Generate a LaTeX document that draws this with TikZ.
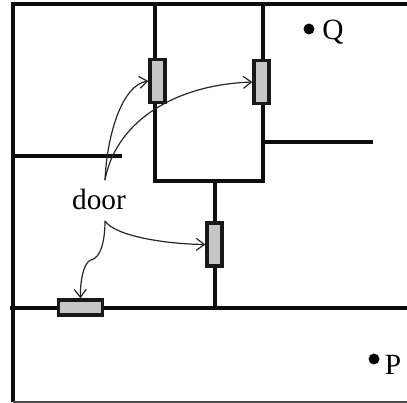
\documentclass[tikz,border=0pt]{standalone}
\usepackage{fontspec}
\setmainfont{Liberation Serif}
\usetikzlibrary{arrows.meta}

\begin{document}
\begin{tikzpicture}[
    x=0.75pt,y=-0.75pt,
    wall/.style={line width=3pt,black!95},
    door/.style={draw=black!90,fill=gray!45,line width=2.6pt,inner sep=0pt},
    hdoor/.style={door,minimum width=33pt,minimum height=11.2pt},
    vdoor/.style={door,minimum width=11.2pt,minimum height=32.5pt},
    pointer/.style={line width=0.9pt,black!85,-{Straight Barb[length=6pt,width=9pt]}},
    place/.style={font=\fontsize{22}{24}\selectfont,anchor=base},
    spot/.style={circle,fill=black,inner sep=0pt,minimum size=8.2pt}]

    \useasboundingbox (0,0) rectangle (407,403);

    % outer walls
    \draw[wall] (407,4.5) -- (12.5,4.5) -- (12.5,402);
    \draw[line width=1pt,black!70] (12.5,402) -- (407,402);
    \draw[wall] (10,307.5) -- (407,307.5);

    % room in the middle
    \draw[wall] (155,4.5) -- (155,181) -- (263,181) -- (263,4.5);
    \draw[wall] (214.5,181) -- (214.5,307.5);
    \draw[wall] (12.5,156) -- (121.5,156);
    \draw[wall] (263,141.5) -- (373,141.5);

    % doors
    \node[vdoor] (doorA) at (157.5,81) {};
    \node[vdoor] (doorB) at (261.5,82) {};
    \node[vdoor] (doorC) at (214.5,244.5) {};
    \node[hdoor] (doorD) at (80.5,307.5) {};

    \node[place] (doorLabel) at (99,209) {door};
    \coordinate (Upper) at (105,180);
    \coordinate (Lower) at (105,221);

    \draw[pointer] (Upper) .. controls (107,135) and (122,85) .. (doorA.west);
    \draw[pointer] (Upper) .. controls (115,125) and (170,85) .. (doorB.west);
    \draw[pointer] (Lower) .. controls (115,236) and (165,244) .. (doorC.west);
    \draw[pointer] (Lower) .. controls (105,240) and (101,258) .. (91,260)
                           .. controls (84,262) and (80,280) .. (doorD.north);

    \node[spot] (spotQ) at (309,29) {};
    \node[place] (labelQ) at (333,40) {Q};
    \node[spot] (spotP) at (374,359) {};
    \node[place] (labelP) at (393,374) {P};

\end{tikzpicture}
\end{document}
